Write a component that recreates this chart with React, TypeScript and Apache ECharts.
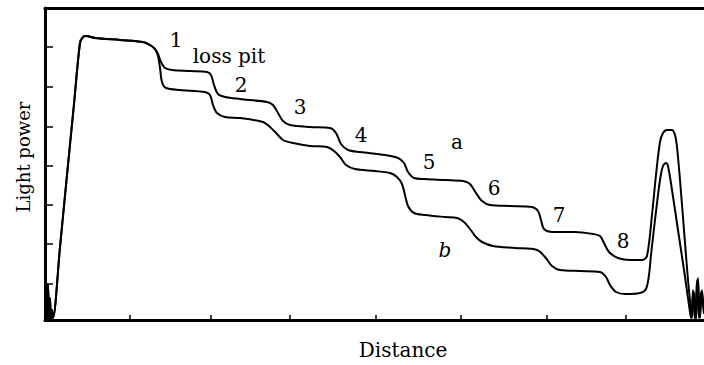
import React, { useEffect, useRef } from "react";
import * as echarts from "echarts";

// distance (arbitrary units) and light power (arbitrary units)
const commonX = [0, 1, 2, 3, 4, 5, 6, 7, 8, 15, 22, 29, 35, 38, 41, 50, 75, 98, 105, 110];
const commonY = [0, 20, 1, 36, 1, 22, 0, 10, 2, 73, 145, 216, 277, 283, 284, 282, 280, 278, 275, 271];

const aX = [113, 116, 120, 127, 145, 162, 166, 169, 173, 180, 195, 222, 228, 233, 238, 245, 265, 285, 291, 296, 303, 315, 340, 353, 359, 363, 369, 380, 400, 418, 425, 431, 437, 445, 465, 487, 493, 496, 499, 508, 530, 548, 555, 559, 564, 573, 585, 597, 602, 607, 611, 615, 618, 622, 627, 630, 632, 635, 639, 643, 646, 647, 649, 651, 653, 655, 657, 659];
const aY = [266, 258, 252, 250, 249, 248, 245, 235, 226, 223, 221, 218, 215, 207, 199, 195, 193, 192, 187, 176, 170, 168, 165, 162, 157, 148, 142, 141, 140, 139, 136, 127, 119, 115, 114, 113, 109, 100, 91, 88, 88, 86, 84, 77, 68, 62, 60, 60, 64, 105, 145, 178, 187, 190, 190, 185, 173, 140, 90, 40, 10, 2, 28, 0, 42, 2, 30, 8];

const bX = [113, 115, 117, 121, 135, 160, 165, 168, 172, 180, 195, 218, 225, 232, 238, 248, 265, 282, 289, 295, 301, 310, 330, 345, 352, 357, 360, 363, 369, 380, 400, 412, 419, 425, 431, 437, 448, 470, 492, 500, 507, 515, 535, 555, 561, 565, 571, 580, 595, 601, 604, 606, 610, 615, 618, 621, 623, 627, 633, 639, 644, 646, 648, 650, 652, 654, 656, 659];
const bY = [264, 252, 238, 232, 230, 228, 225, 215, 207, 203, 202, 198, 193, 186, 180, 177, 174, 173, 169, 163, 155, 151, 149, 147, 143, 136, 125, 114, 107, 105, 103, 102, 98, 91, 83, 78, 74, 72, 70, 63, 54, 50, 49, 48, 43, 35, 28, 26, 27, 31, 45, 65, 100, 140, 154, 157, 154, 130, 90, 50, 15, 2, 30, 0, 40, 2, 28, 6];

const xTicks = [85, 166, 245, 331, 416, 502, 581];
const yTicks = [36, 76, 115, 154, 193, 233, 273];

const labels = ["1", "loss pit", "2", "3", "4", "5", "a", "6", "7", "8", "b"];

function zip(xs: number[], ys: number[]) {
  return xs.map((x, i) => [x, ys[i]]);
}

export default function App() {
  const ref = useRef<HTMLDivElement>(null);
  useEffect(() => {
    if (!ref.current) return;
    const chart = echarts.init(ref.current, null, { renderer: "svg" });
    const font = "'DejaVu Serif', 'Liberation Serif', serif";
    const dataA = [...zip(commonX, commonY), ...zip(aX, aY)];
    const dataB = [...zip(commonX, commonY), ...zip(bX, bY)];
    const labelPos: [number, number][] = [
      [176, 40], [229, 56], [241, 85], [300, 107], [361, 135], [429, 162],
      [457, 142], [494, 188], [559, 215], [623, 241], [445, 250],
    ];
    chart.setOption({
      animation: false,
      grid: { left: 45, right: 0, top: 8, bottom: 45 },
      xAxis: [
        {
          type: "value",
          min: 0,
          max: 659,
          axisLine: { show: true, lineStyle: { color: "#000", width: 3 } },
          axisTick: {
            show: true,
            inside: true,
            length: 5,
            customValues: xTicks,
            lineStyle: { color: "#000", width: 1.5 },
          },
          axisLabel: { show: false },
          splitLine: { show: false },
        },
        {
          type: "value",
          position: "top",
          min: 0,
          max: 659,
          axisLine: { show: true, lineStyle: { color: "#000", width: 3 } },
          axisTick: { show: false },
          axisLabel: { show: false },
          splitLine: { show: false },
        },
      ],
      yAxis: {
        type: "value",
        min: 0,
        max: 312,
        axisLine: { show: true, lineStyle: { color: "#000", width: 3 } },
        axisTick: {
          show: true,
          inside: true,
          length: 8,
          customValues: yTicks,
          lineStyle: { color: "#000", width: 1.5 },
        },
        axisLabel: { show: false },
        splitLine: { show: false },
      },
      series: [
        {
          type: "line",
          data: dataA,
          showSymbol: false,
          smooth: 0.3,
          lineStyle: { color: "#000", width: 2 },
        },
        {
          type: "line",
          data: dataB,
          showSymbol: false,
          smooth: 0.3,
          lineStyle: { color: "#000", width: 2 },
        },
      ],
      graphic: [
        ...labels.map((t, i) => ({
          type: "text",
          x: labelPos[i][0],
          y: labelPos[i][1],
          style: {
            text: t,
            font: `${t === "b" ? "italic " : ""}20px ${font}`,
            fill: "#000",
            align: "center",
            verticalAlign: "middle",
          },
        })),
        {
          type: "text",
          x: 403,
          y: 350,
          style: {
            text: "Distance",
            font: `20px ${font}`,
            fill: "#000",
            align: "center",
            verticalAlign: "middle",
          },
        },
        {
          type: "text",
          x: 23,
          y: 157,
          rotation: Math.PI / 2,
          style: {
            text: "Light power",
            font: `18px ${font}`,
            fill: "#000",
            align: "center",
            verticalAlign: "middle",
          },
        },
      ],
    });
    return () => chart.dispose();
  }, []);
  return (
    <div
      ref={ref}
      style={{ position: "fixed", left: 0, top: 0, width: 704, height: 365, background: "#fff" }}
    />
  );
}
